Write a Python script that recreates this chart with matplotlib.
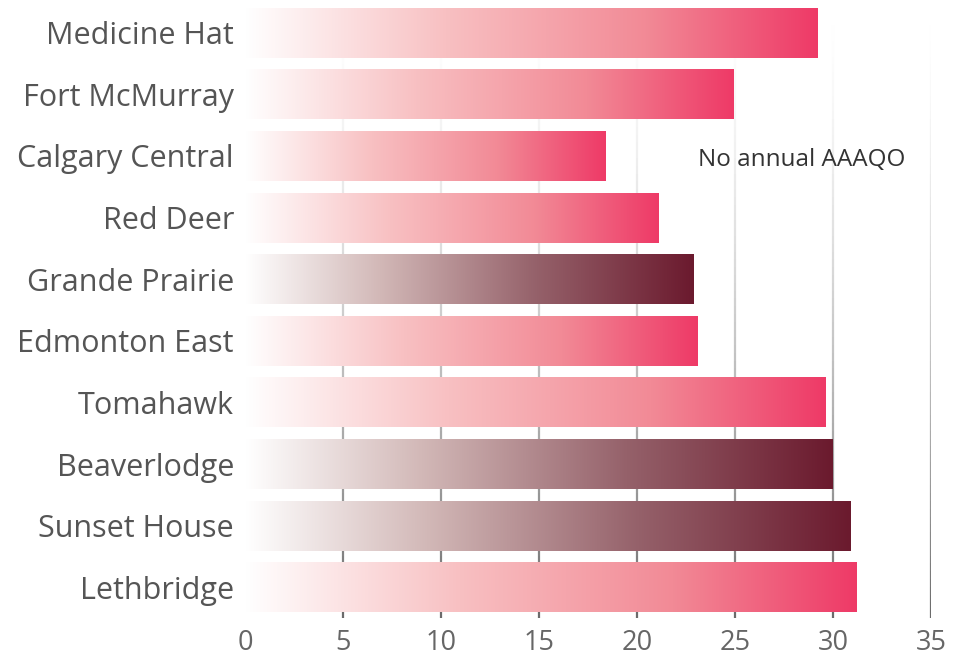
import numpy as np
import matplotlib.pyplot as plt
from matplotlib.colors import LinearSegmentedColormap
from matplotlib.collections import LineCollection

plt.rcParams['font.family'] = ['Open Sans', 'DejaVu Sans']

# data, top to bottom
stations = ['Medicine Hat', 'Fort McMurray', 'Calgary Central', 'Red Deer',
            'Grande Prairie', 'Edmonton East', 'Tomahawk', 'Beaverlodge',
            'Sunset House', 'Lethbridge']
values = [29.2, 24.9, 18.4, 21.1, 22.9, 23.1, 29.6, 29.95, 30.9, 31.2]
dark = [False, False, False, False, True, False, False, True, True, False]

pink = LinearSegmentedColormap.from_list('pink', [(0, '#ffffff'), (0.35, '#f8c0c2'),
                                                  (0.7, '#f28a96'), (1, '#ee3a67')])
maroon = LinearSegmentedColormap.from_list('maroon', [(0, '#ffffff'), (0.3, '#d2b8b7'),
                                                      (0.65, '#95616a'), (1, '#6b1a2e')])

fig = plt.figure(figsize=(9.6, 6.61), dpi=100)
ax = fig.add_axes([0.2552, 0.065, 0.7146, 0.932])

xmax = 35

# gradient gridlines, faint at top, gray at bottom
ys = np.linspace(-0.5, 9.5, 80)
for t in range(5, 40, 5):
    segs = [[(t, ys[i]), (t, ys[i + 1])] for i in range(len(ys) - 1)]
    frac = np.linspace(0, 1, len(segs)) ** 1.6
    cols = [(1 - 0.58 * f, 1 - 0.58 * f, 1 - 0.58 * f) for f in frac]
    ax.add_collection(LineCollection(segs, colors=cols, linewidths=1.6, zorder=1))

h = 0.81
grad = np.linspace(0, 1, 256).reshape(1, -1)
for i, (v, d) in enumerate(zip(values, dark)):
    ax.imshow(grad, cmap=maroon if d else pink, aspect='auto',
              extent=[0, v, i + h / 2, i - h / 2], zorder=2, interpolation='bilinear')

ax.set_xlim(0, xmax)
ax.set_ylim(9.5, -0.5)

ax.set_yticks(range(len(stations)))
ax.set_yticklabels(stations, fontsize=22, color='#555555')
ax.set_xticks(range(0, 40, 5))
ax.tick_params(axis='x', labelsize=19.5, labelcolor='#666666', length=0, pad=8)
ax.tick_params(axis='y', length=0, pad=8)
for s in ax.spines.values():
    s.set_visible(False)

ax.text(28.4, 2.07, 'No annual AAAQO', ha='center', va='center', fontsize=17.5, color='#333333')

fig.savefig('out.png', dpi=100)
